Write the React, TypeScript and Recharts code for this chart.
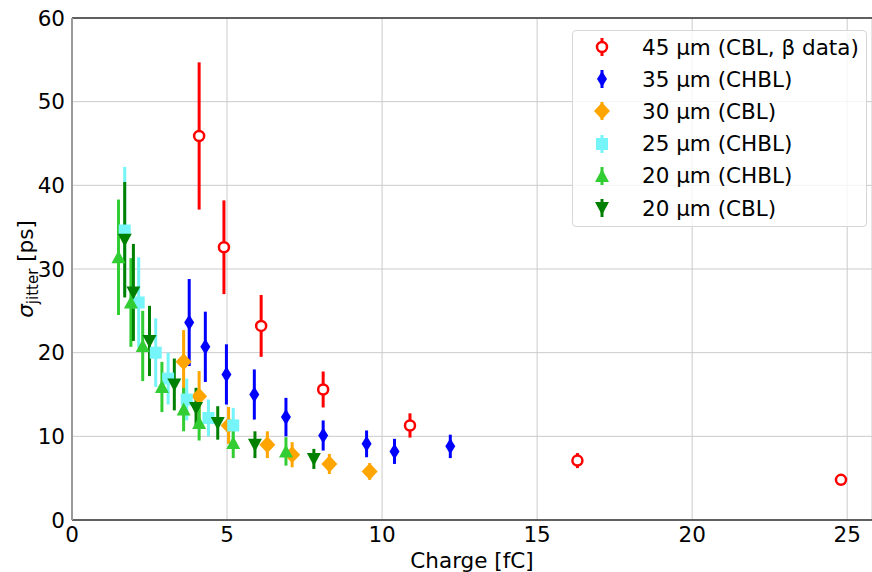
import {
  ScatterChart,
  Scatter,
  XAxis,
  YAxis,
  CartesianGrid,
  ErrorBar,
  Legend,
  ReferenceLine,
} from 'recharts'

const FONT = '"DejaVu Sans", sans-serif'
const FS = 21.5

// 45 um (CBL, beta data)
const red45X = [4.1, 4.9, 6.1, 8.1, 10.9, 16.3, 24.8]
const red45Y = [45.9, 32.6, 23.2, 15.6, 11.3, 7.1, 4.8]
const red45Err = [8.8, 5.6, 3.7, 2.15, 1.45, 0.9, 0.25]

// 35 um (CHBL)
const blue35X = [3.78, 4.3, 4.98, 5.88, 6.9, 8.1, 9.5, 10.4, 12.2]
const blue35Y = [23.6, 20.7, 17.4, 15.0, 12.3, 10.1, 9.1, 8.2, 8.8]
const blue35Err = [5.2, 4.2, 3.6, 3.0, 2.3, 1.8, 1.6, 1.5, 1.4]

// 30 um (CBL)
const orange30X = [3.6, 4.1, 5.05, 6.3, 7.1, 8.3, 9.6]
const orange30Y = [18.9, 14.8, 11.3, 9.0, 7.8, 6.7, 5.8]
const orange30Err = [3.8, 3.0, 2.2, 1.6, 1.5, 1.2, 1.0]

// 25 um (CHBL)
const cyan25X = [1.7, 2.15, 2.7, 3.1, 3.7, 4.4, 5.2]
const cyan25Y = [34.6, 26.0, 20.0, 16.9, 14.4, 12.2, 11.3]
const cyan25Err = [7.6, 5.4, 4.1, 3.1, 2.5, 2.2, 2.1]

// 20 um (CHBL)
const lime20X = [1.5, 1.9, 2.28, 2.9, 3.6, 4.1, 5.2, 6.9]
const lime20Y = [31.4, 26.0, 20.8, 15.9, 13.2, 11.6, 9.2, 8.2]
const lime20Err = [6.9, 5.3, 4.2, 3.0, 2.6, 2.1, 1.8, 1.7]

// 20 um (CBL)
const green20X = [1.7, 1.98, 2.5, 3.3, 4.0, 4.7, 5.9, 7.8]
const green20Y = [33.5, 27.2, 21.4, 16.2, 13.4, 11.6, 9.0, 7.3]
const green20Err = [6.9, 5.8, 4.2, 3.1, 2.4, 2.0, 1.6, 1.2]

const xTicks = [0, 5, 10, 15, 20, 25]
const yTicks = [0, 10, 20, 30, 40, 50, 60]

function zip(xs: number[], ys: number[], errs: number[]) {
  return xs.map((x, i) => ({ x, y: ys[i], err: errs[i] }))
}

type Kind = 'circle' | 'thinDiamond' | 'diamond' | 'square' | 'triUp' | 'triDown'

const series = [
  { name: '45 µm (CBL, β data)', color: '#ff0000', kind: 'circle' as Kind, data: zip(red45X, red45Y, red45Err) },
  { name: '35 µm (CHBL)', color: '#0000ff', kind: 'thinDiamond' as Kind, data: zip(blue35X, blue35Y, blue35Err) },
  { name: '30 µm (CBL)', color: '#ffa500', kind: 'diamond' as Kind, data: zip(orange30X, orange30Y, orange30Err) },
  { name: '25 µm (CHBL)', color: '#75f4fa', kind: 'square' as Kind, data: zip(cyan25X, cyan25Y, cyan25Err) },
  { name: '20 µm (CHBL)', color: '#32cd32', kind: 'triUp' as Kind, data: zip(lime20X, lime20Y, lime20Err) },
  { name: '20 µm (CBL)', color: '#008000', kind: 'triDown' as Kind, data: zip(green20X, green20Y, green20Err) },
]

function Marker({ kind, cx, cy, color }: { kind: Kind; cx: number; cy: number; color: string }) {
  switch (kind) {
    case 'circle':
      return <circle cx={cx} cy={cy} r={5} fill="#fff" stroke={color} strokeWidth={2.5} />
    case 'thinDiamond':
      return <polygon points={`${cx},${cy - 8} ${cx + 5},${cy} ${cx},${cy + 8} ${cx - 5},${cy}`} fill={color} />
    case 'diamond':
      return <polygon points={`${cx},${cy - 8.5} ${cx + 8},${cy} ${cx},${cy + 8.5} ${cx - 8},${cy}`} fill={color} />
    case 'square':
      return <rect x={cx - 6} y={cy - 6} width={12} height={12} fill={color} />
    case 'triUp':
      return <polygon points={`${cx},${cy - 7} ${cx + 7},${cy + 6} ${cx - 7},${cy + 6}`} fill={color} />
    case 'triDown':
      return <polygon points={`${cx},${cy + 7} ${cx + 7},${cy - 6} ${cx - 7},${cy - 6}`} fill={color} />
  }
  return null
}

function LegendBox() {
  return (
    <div
      style={{
        width: 295,
        height: 197,
        border: '1px solid #d6d6d6',
        borderRadius: 4,
        background: 'rgba(255,255,255,0.8)',
        fontFamily: FONT,
        fontSize: FS,
        color: '#000',
        boxSizing: 'border-box',
      }}
    >
      {series.map((s, i) => (
        <div key={i} style={{ display: 'flex', alignItems: 'center', height: 32.2 }}>
          <svg width={60} height={32}>
            <line x1={29} x2={29} y1={7} y2={25} stroke={s.color} strokeWidth={3} />
            <Marker kind={s.kind} cx={29} cy={16} color={s.color} />
          </svg>
          <span style={{ marginLeft: 9, whiteSpace: 'nowrap' }}>{s.name}</span>
        </div>
      ))}
    </div>
  )
}

function YLabel(props: any) {
  const vb = props.viewBox || { x: 0, y: 18, width: 72, height: 502 }
  const x = vb.x + 33
  const y = vb.y + vb.height / 2
  return (
    <text
      x={x}
      y={y}
      transform={`rotate(-90 ${x} ${y})`}
      textAnchor="middle"
      fontFamily={FONT}
      fontSize={FS}
      fill="#000"
    >
      <tspan fontStyle="italic">σ</tspan>
      <tspan fontSize={15} dy={5}>jitter</tspan>
      <tspan dy={-5}> [ps]</tspan>
    </text>
  )
}

const tickStyle = { fontFamily: FONT, fontSize: FS, fill: '#000' }

export default function App() {
  return (
    <div style={{ position: 'absolute', left: 0, top: 0, background: '#fff' }}>
      <ScatterChart width={872} height={572} margin={{ top: 18, right: 0, bottom: 0, left: 0 }}>
        <CartesianGrid stroke="#cbcbcb" strokeWidth={1} />
        <XAxis
          type="number"
          dataKey="x"
          domain={[0, 25.8]}
          ticks={xTicks}
          allowDataOverflow
          height={52}
          tick={tickStyle}
          tickLine={false}
          tickSize={0}
          tickMargin={7}
          axisLine={{ stroke: '#333', strokeWidth: 1.5 }}
          label={{
            value: 'Charge [fC]',
            position: 'insideBottom',
            offset: 4,
            style: { fontFamily: FONT, fontSize: FS, fill: '#000' },
          }}
        />
        <YAxis
          type="number"
          dataKey="y"
          domain={[0, 60]}
          ticks={yTicks}
          allowDataOverflow
          width={72}
          tick={tickStyle}
          tickLine={false}
          tickSize={0}
          tickMargin={7}
          axisLine={{ stroke: '#9a9a9a', strokeWidth: 2 }}
          label={{ content: YLabel }}
        />
        <ReferenceLine y={60} stroke="#333" strokeWidth={1.5} />
        {series.map((s) => (
          <Scatter
            key={s.name}
            name={s.name}
            data={s.data}
            dataKey="y"
            fill={s.color}
            isAnimationActive={false}
            shape={(p: any) => <Marker kind={s.kind} cx={p.cx} cy={p.cy} color={s.color} />}
          >
            <ErrorBar
              dataKey="err"
              direction="y"
              width={0}
              stroke={s.color}
              strokeWidth={3}
              isAnimationActive={false}
            />
          </Scatter>
        ))}
        <Legend
          layout="vertical"
          align="center"
          verticalAlign="middle"
          wrapperStyle={{ top: 30, left: 572, width: 295, height: 197 }}
          content={() => <LegendBox />}
        />
      </ScatterChart>
    </div>
  )
}
